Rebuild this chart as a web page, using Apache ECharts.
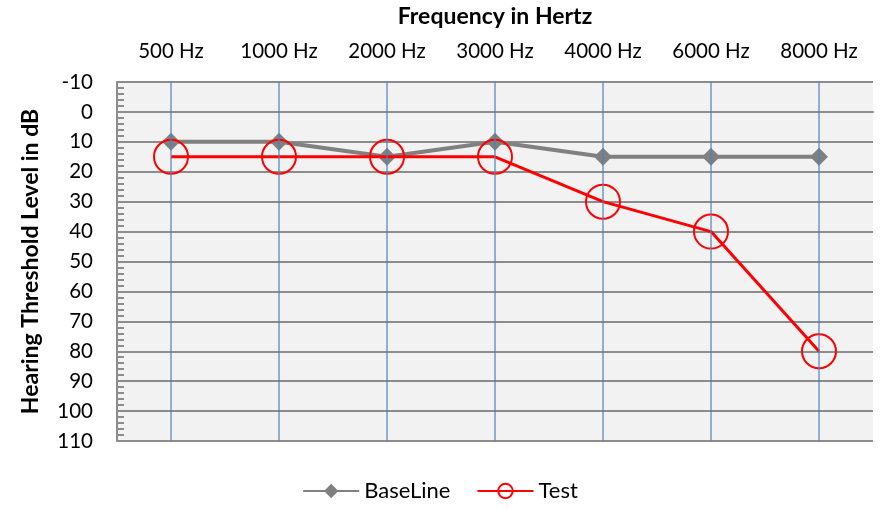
<!DOCTYPE html>
<html><head><meta charset="utf-8">
<script src="https://cdn.jsdelivr.net/npm/echarts@6/dist/echarts.min.js"></script>
<style>html,body{margin:0;padding:0;background:#fff}#c{width:880px;height:509px}</style>
</head><body><div id="c"></div>
<script>
const categories = ['500 Hz','1000 Hz','2000 Hz','3000 Hz','4000 Hz','6000 Hz','8000 Hz'];
const baseLine = [10,10,15,10,15,15,15];
const test = [15,15,15,15,30,40,80];
const FONT = 'Lato, "Open Sans", sans-serif';
const chart = echarts.init(document.getElementById('c'));
chart.setOption({
  animation:false,
  grid:{left:117,right:7,top:82,bottom:68,show:true,backgroundColor:'#f2f2f2',borderWidth:0,
    outerBoundsMode:'none',containLabel:false},
  xAxis:{type:'category',data:categories,position:'top',boundaryGap:true,
    name:'Frequency in Hertz',nameLocation:'middle',nameGap:54,
    nameTextStyle:{fontFamily:FONT,fontWeight:'bold',fontSize:23,color:'#000'},
    axisLine:{show:true,lineStyle:{color:'#8c8c8c',width:2}},
    axisTick:{show:false},
    axisLabel:{fontFamily:FONT,fontSize:20.5,color:'#000',margin:20},
    splitLine:{show:false}},
  yAxis:{type:'value',inverse:true,min:-10,max:110,interval:10,
    name:'Hearing Threshold Level in dB',nameLocation:'middle',nameGap:75,nameRotate:90,
    nameTextStyle:{fontFamily:FONT,fontWeight:'bold',fontSize:23,color:'#000'},
    axisLine:{show:true,lineStyle:{color:'#8c8c8c',width:2}},
    axisTick:{show:true,inside:true,length:8,lineStyle:{color:'#8c8c8c',width:2}},
    minorTick:{show:true,splitNumber:5,length:7,lineStyle:{color:'#8c8c8c',width:2}},
    axisLabel:{fontFamily:FONT,fontSize:20.5,color:'#000',margin:24},
    splitLine:{show:true,lineStyle:{color:'#8c8c8c',width:2}}},
  legend:{bottom:2,left:'center',itemWidth:56,itemHeight:18,itemGap:26,
    textStyle:{fontFamily:FONT,fontSize:22,color:'#000'},
    data:['BaseLine','Test']},
  series:[
    {type:'line',name:'__vgrid',data:[],silent:true,
     markLine:{symbol:'none',silent:true,label:{show:false},
       lineStyle:{color:'#4f81bd',width:1.5,type:'solid',opacity:0.8},
       data:categories.map(c=>({xAxis:c}))}},
    {type:'line',name:'BaseLine',data:baseLine,symbol:'diamond',symbolSize:18,
     lineStyle:{color:'#808080',width:4},itemStyle:{color:'#808080'},z:3},
    {type:'line',name:'Test',data:test,symbol:'circle',symbolSize:34,
     lineStyle:{color:'#ff0000',width:3},
     itemStyle:{color:'rgba(0,0,0,0)',borderColor:'#ff0000',borderWidth:2},z:4}
  ]
});
</script></body></html>
